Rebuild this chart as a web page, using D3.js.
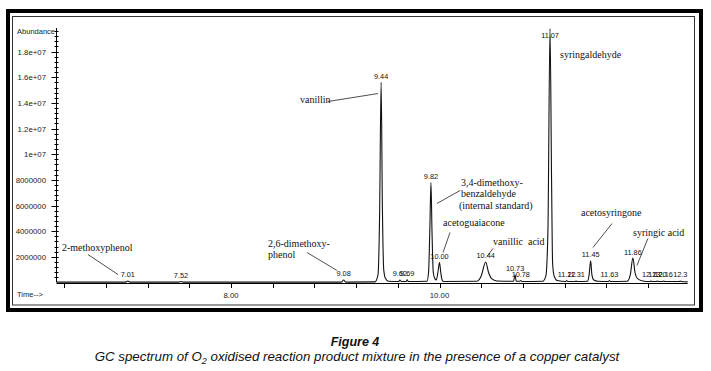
<!DOCTYPE html>
<html><head><meta charset="utf-8">
<script src="https://cdn.jsdelivr.net/npm/d3@7"></script>
<style>
html,body{margin:0;padding:0;background:#fff;}
svg{display:block;}
</style></head>
<body>
<svg id="chart" width="711" height="371"></svg>
<script>
// ---- data (retention time in min, abundance in counts) ----
const traceTimes = [6.33,6.99,7.01,7.03,7.50,7.52,7.54,9.06,9.08,9.10,9.38,9.41,9.425,9.44,9.452,9.465,9.48,9.51,
  9.61,9.62,9.635,9.68,9.69,9.70,9.88,9.895,9.907,9.918,9.928,9.94,9.955,9.97,9.985,10.0,10.012,10.025,10.04,
  10.36,10.40,10.443,10.47,10.50,10.55,10.71,10.725,10.735,10.77,10.78,10.79,10.99,11.02,11.04,11.06,11.075,11.085,11.10,11.13,
  11.21,11.22,11.23,11.30,11.31,11.32,11.42,11.435,11.45,11.462,11.48,11.52,11.62,11.63,11.64,
  11.80,11.83,11.855,11.875,11.90,11.95,12.02,12.03,12.04,12.08,12.09,12.10,12.14,12.15,12.16,12.30,12.31,12.32,12.38];
const traceAbund = [0.03,0.03,0.12,0.03,0.03,0.08,0.03,0.03,0.2,0.03,0.05,0.6,5,15.6,6,1.0,0.35,0.1,
  0.08,0.2,0.08,0.08,0.22,0.08,0.1,0.8,4.0,7.8,4.0,0.8,0.3,0.2,0.8,1.56,0.8,0.2,0.08,
  0.1,0.5,1.6,0.8,0.3,0.12,0.1,0.6,0.1,0.1,0.15,0.08,0.1,0.5,4,19.8,8,1.5,0.5,0.15,
  0.08,0.15,0.08,0.08,0.12,0.08,0.1,0.6,1.7,0.6,0.2,0.1,0.08,0.15,0.08,
  0.1,0.6,1.9,0.8,0.3,0.12,0.08,0.12,0.08,0.08,0.12,0.08,0.08,0.12,0.08,0.08,0.12,0.08,0.05].map(v => v * 1e6);

const peakTimes  = [7.01,7.52,9.08,9.44,9.62,9.69,9.918,10.0,10.443,10.725,10.78,11.06,11.22,11.31,11.45,11.63,11.855,12.03,12.09,12.15,12.31];
const peakHeights = [0.12,0.08,0.2,15.6,0.2,0.22,7.8,1.56,1.6,0.6,0.15,19.8,0.15,0.12,1.7,0.15,1.9,0.12,0.12,0.12,0.12].map(v => v * 1e6);
const peakLabels = ["7.01","7.52","9.08","9.44","9.62","9.69","9.82","10.00","10.44","10.73","10.78","11.07","11.22","11.31","11.45","11.63","11.86","12.13","12.20","12.16","12.3"];

const yTickValues = [2e6,4e6,6e6,8e6,1e7,1.2e7,1.4e7,1.6e7,1.8e7];
const yTickLabels = ["2000000","4000000","6000000","8000000","1e+07","1.2e+07","1.4e+07","1.6e+07","1.8e+07"];
const xTickValues = [8, 10];
const xTickLabels = ["8.00","10.00"];

// compound annotations: text lines, text anchor (time, abundance), leader line from/to (time, abundance)
const compoundNames = [
  ["2-methoxyphenol"],
  ["2,6-dimethoxy-","phenol"],
  ["vanillin"],
  ["3,4-dimethoxy-","benzaldehyde","(internal standard)"],
  ["acetoguaiacone"],
  ["vanillic  acid"],
  ["syringaldehyde"],
  ["acetosyringone"],
  ["syringic acid"]
];
const compoundTextAt = [[6.379,2.447e6],[8.355,2.806e6],[8.662,13.97e6],[10.206,7.56e6],[10.034,4.39e6],[10.513,2.94e6],[11.156,17.51e6],[11.357,5.17e6],[11.856,3.66e6]];
const compoundLeaders = [
  [[6.628,2.18e6],[6.916,0.62e6]],
  [[8.729,2.34e6],[9.017,0.935e6]],
  [[8.930,14.11e6],[9.410,14.73e6]],
  [[10.197,7.17e6],[9.976,6.16e6]],
  [[10.101,3.90e6],[10.034,2.34e6]],
  [[10.513,2.65e6],[10.456,2.03e6]],
  null,
  [[11.655,4.60e6],[11.472,2.73e6]],
  [[11.999,3.43e6],[11.894,1.33e6]]
];

// ---- drawing ----
const svg = d3.select("#chart");
const x = d3.scaleLinear().domain([8, 10]).range([231, 439.5]);
const y = d3.scaleLinear().domain([0, 1.98e7]).range([282.5, 28.5]);
const xMin = 6.33, xMax = 12.38;

// frame
svg.append("rect").attr("x",8).attr("y",11).attr("width",693).attr("height",299)
  .attr("fill","none").attr("stroke","#000").attr("stroke-width",4);
svg.append("rect").attr("x",12.5).attr("y",16.5).attr("width",682).attr("height",288.5)
  .attr("fill","none").attr("stroke","#333").attr("stroke-width",1);

const sans = "'Liberation Sans', Arial, sans-serif";
const serif = "'Liberation Serif', 'Times New Roman', serif";

// y axis
const yAxisX = 56.5;
svg.append("line").attr("x1",yAxisX).attr("x2",yAxisX).attr("y1",y(0)).attr("y2",28)
  .attr("stroke","#000").attr("stroke-width",1);
const minorY = d3.range(4e5, 1.98e7, 4e5);
svg.append("g").selectAll("line").data(minorY).join("line")
  .attr("x1",yAxisX-2).attr("x2",yAxisX+2)
  .attr("y1",d=>Math.round(y(d))+0.5).attr("y2",d=>Math.round(y(d))+0.5)
  .attr("stroke","#000").attr("stroke-width",1);
svg.append("g").selectAll("line").data(yTickValues).join("line")
  .attr("x1",yAxisX-5).attr("x2",yAxisX+2)
  .attr("y1",d=>Math.round(y(d))+0.5).attr("y2",d=>Math.round(y(d))+0.5)
  .attr("stroke","#000").attr("stroke-width",1);
svg.append("g").selectAll("text").data(yTickValues).join("text")
  .attr("x",46).attr("y",d=>y(d)+3)
  .attr("text-anchor","end").attr("font-family",sans).attr("font-size","7.8px").attr("fill","#222")
  .text((d,i)=>yTickLabels[i]);
svg.append("text").attr("x",55).attr("y",34).attr("text-anchor","end")
  .attr("font-family",sans).attr("font-size","7.5px").attr("fill","#222").text("Abundance");

// x axis
const xAxisY = 283;
svg.append("line").attr("x1",yAxisX).attr("x2",x(xMax)).attr("y1",xAxisY+0.5).attr("y2",xAxisY+0.5)
  .attr("stroke","#000").attr("stroke-width",1);
const minorX = d3.range(6.4, 12.01, 0.4);
svg.append("g").selectAll("line").data(minorX).join("line")
  .attr("x1",d=>Math.round(x(d))+0.5).attr("x2",d=>Math.round(x(d))+0.5)
  .attr("y1",xAxisY).attr("y2",xAxisY+5)
  .attr("stroke","#000").attr("stroke-width",1);
svg.append("g").selectAll("text").data(xTickValues).join("text")
  .attr("x",d=>x(d)).attr("y",298).attr("text-anchor","middle")
  .attr("font-family",sans).attr("font-size","7.8px").attr("fill","#222")
  .text((d,i)=>xTickLabels[i]);
svg.append("text").attr("x",17).attr("y",297)
  .attr("font-family",sans).attr("font-size","7.5px").attr("fill","#222").text("Time-->");

// trace
const pts = traceTimes.map((t,i)=>[t, traceAbund[i]]);
const line = d3.line().x(d=>x(d[0])).y(d=>y(d[1])).curve(d3.curveMonotoneX);
svg.append("path").datum(pts).attr("d",line)
  .attr("fill","none").attr("stroke","#111").attr("stroke-width",1.1).attr("stroke-linejoin","round");

// peak labels
svg.append("g").selectAll("text").data(peakTimes).join("text")
  .attr("x",d=>x(d)).attr("y",(d,i)=>Math.max(y(peakHeights[i]) - 3.5, 38))
  .attr("text-anchor","middle").attr("font-family",sans).attr("font-size","7.3px").attr("fill","#111")
  .text((d,i)=>peakLabels[i]);

// compound annotations
compoundNames.forEach((lines,i)=>{
  const [tt, ta] = compoundTextAt[i];
  lines.forEach((s,j)=>{
    svg.append("text").attr("x",x(tt) - (j===2?2:0)).attr("y",y(ta) + j*11.5)
      .attr("font-family",serif).attr("font-size","10px").attr("fill","#111")
      .style("white-space","pre").text(s);
  });
  const L = compoundLeaders[i];
  if (L) {
    svg.append("line").attr("x1",x(L[0][0])).attr("y1",y(L[0][1]))
      .attr("x2",x(L[1][0])).attr("y2",y(L[1][1]))
      .attr("stroke","#222").attr("stroke-width",0.8);
  }
});

// caption
svg.append("text").attr("x",355).attr("y",346).attr("text-anchor","middle")
  .attr("font-family",sans).attr("font-size","12.5px").attr("font-weight","bold").attr("font-style","italic")
  .attr("fill","#111").text("Figure 4");
const cap = svg.append("text").attr("x",357).attr("y",361).attr("text-anchor","middle")
  .attr("font-family",sans).attr("font-size","13.3px").attr("font-style","italic").attr("fill","#111");
cap.append("tspan").text("GC spectrum of O");
cap.append("tspan").attr("font-size","9px").attr("dy",3).text("2");
cap.append("tspan").attr("dy",-3).text(" oxidised reaction product mixture in the presence of a copper catalyst");
</script>
</body></html>
